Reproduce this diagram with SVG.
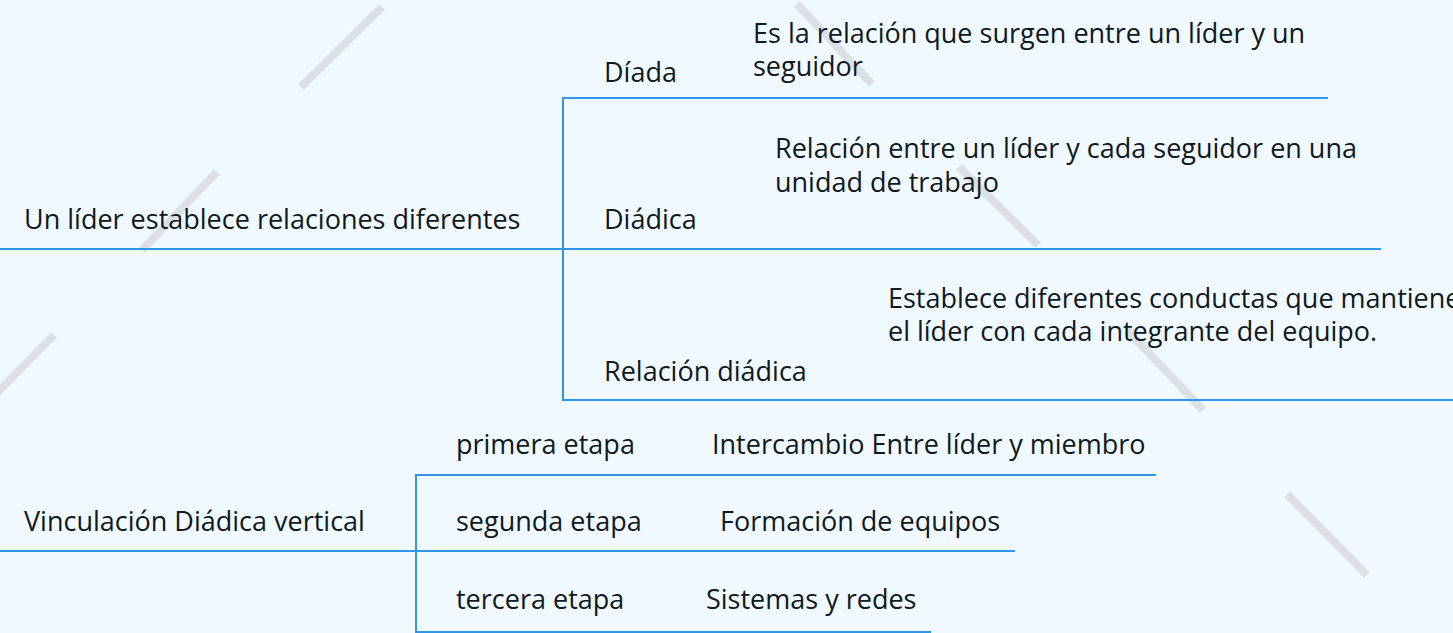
<svg xmlns="http://www.w3.org/2000/svg" width="1453" height="633" viewBox="0 0 1453 633">
<style>
.bg{fill:#EFF9FF}
.deco{stroke:#DAE0E6;stroke-width:8;stroke-linecap:butt}
.c{stroke:#2F96EA;stroke-width:2;fill:none}
text{font-family:"Open Sans","Liberation Sans",sans-serif;font-size:27px;fill:#101820}
</style>
<rect class="bg" x="0" y="0" width="1453" height="633"/>
<g id="decor">
<line class="deco" x1="382" y1="7" x2="301" y2="87"/>
<line class="deco" x1="217" y1="172" x2="142" y2="250"/>
<line class="deco" x1="54" y1="335" x2="-4" y2="394"/>
<line class="deco" x1="797" y1="4" x2="872" y2="84"/>
<line class="deco" x1="959" y1="167" x2="1038" y2="245"/>
<line class="deco" x1="1127" y1="330" x2="1203" y2="410"/>
<line class="deco" x1="1287" y1="494" x2="1367" y2="575"/>
</g>
<g id="connectors">
<line class="c" x1="0" y1="249" x2="1381" y2="249"/>
<line class="c" x1="563" y1="98" x2="563" y2="401"/>
<line class="c" x1="562" y1="98" x2="1328" y2="98"/>
<line class="c" x1="562" y1="400" x2="1453" y2="400"/>
<line class="c" x1="0" y1="551" x2="1015" y2="551"/>
<line class="c" x1="416" y1="475" x2="416" y2="633"/>
<line class="c" x1="415" y1="475" x2="1156" y2="475"/>
<line class="c" x1="415" y1="632" x2="931" y2="632"/>
</g>
<g id="root1"><text x="24" y="229">Un líder establece relaciones diferentes</text></g>
<g id="diada"><text x="604" y="82">Díada</text></g>
<g id="diada-desc"><text x="753" y="43">Es la relación que surgen entre un líder y un</text><text x="753" y="76">seguidor</text></g>
<g id="diadica"><text x="604" y="229">Diádica</text></g>
<g id="diadica-desc"><text x="775" y="158">Relación entre un líder y cada seguidor en una</text><text x="775" y="192">unidad de trabajo</text></g>
<g id="relacion"><text x="604" y="381">Relación diádica</text></g>
<g id="relacion-desc"><text x="888" y="308">Establece diferentes conductas que mantiene</text><text x="888" y="341">el líder con cada integrante del equipo.</text></g>
<g id="root2"><text x="24" y="531">Vinculación Diádica vertical</text></g>
<g id="etapa1"><text x="456" y="454">primera etapa</text></g>
<g id="etapa1-desc"><text x="712" y="454">Intercambio Entre líder y miembro</text></g>
<g id="etapa2"><text x="456" y="531">segunda etapa</text></g>
<g id="etapa2-desc"><text x="720" y="531">Formación de equipos</text></g>
<g id="etapa3"><text x="456" y="609">tercera etapa</text></g>
<g id="etapa3-desc"><text x="706" y="609">Sistemas y redes</text></g>
</svg>
